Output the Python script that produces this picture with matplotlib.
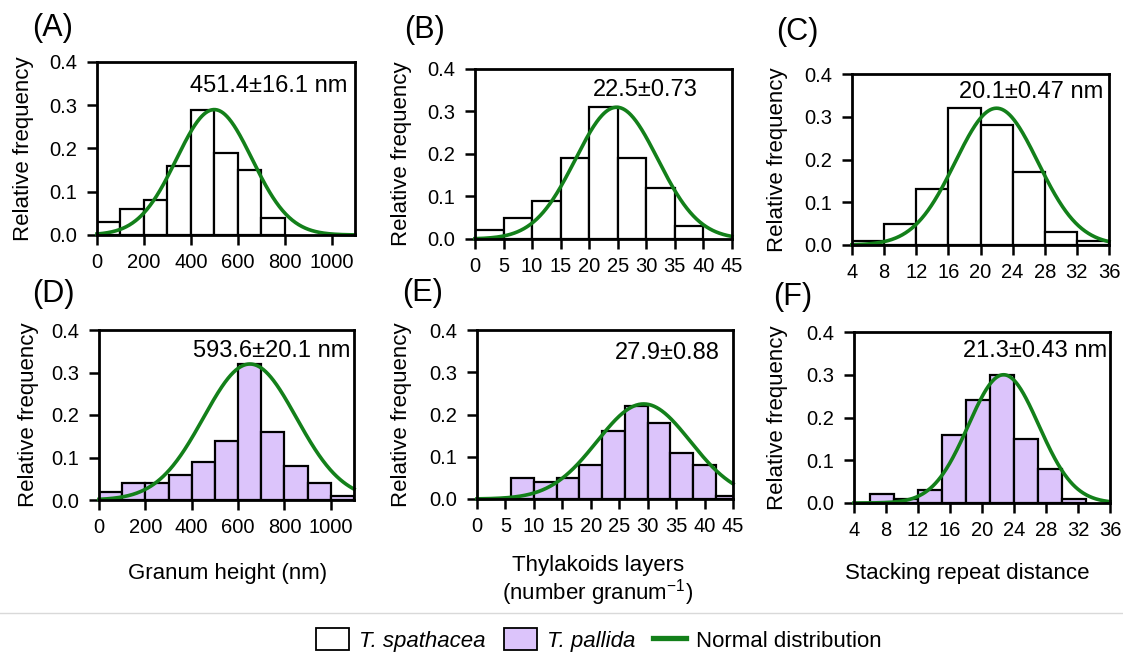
import numpy as np
import matplotlib
matplotlib.use("Agg")
import matplotlib.pyplot as plt
from matplotlib.patches import Patch
from matplotlib.lines import Line2D

plt.rcParams['font.family'] = ['Liberation Sans', 'DejaVu Sans']
plt.rcParams['mathtext.fontset'] = 'custom'
plt.rcParams['mathtext.rm'] = 'Liberation Sans'
plt.rcParams['mathtext.it'] = 'Liberation Sans:italic'

# ---- histogram data (bin left edges, bin width, relative frequency) ----
# Granum height (nm)
a_edges = [0, 100, 200, 300, 400, 500, 600, 700]
a_freq = [0.03, 0.06, 0.08, 0.16, 0.29, 0.19, 0.15, 0.04]
d_edges = [0, 100, 200, 300, 400, 500, 600, 700, 800, 900, 1000]
d_freq = [0.02, 0.04, 0.04, 0.06, 0.09, 0.14, 0.32, 0.16, 0.08, 0.04, 0.01]
height_width = 100

# Thylakoid layers per granum
b_edges = [0, 5, 10, 15, 20, 25, 30, 35]
b_freq = [0.02, 0.05, 0.09, 0.19, 0.31, 0.19, 0.12, 0.03]
b_width = 5
e_edges = [6, 10, 14, 18, 22, 26, 30, 34, 38, 42]
e_freq = [0.05, 0.04, 0.05, 0.08, 0.16, 0.22, 0.18, 0.11, 0.08, 0.007]
e_width = 4

# Stacking repeat distance
c_edges = [4, 8, 12, 16, 20, 24, 28, 32]
c_freq = [0.01, 0.05, 0.13, 0.32, 0.28, 0.17, 0.03, 0.01]
c_width = 4
f_edges = [6, 9, 12, 15, 18, 21, 24, 27, 30]
f_freq = [0.02, 0.01, 0.03, 0.16, 0.24, 0.30, 0.15, 0.08, 0.01]
f_width = 3

# fitted normal curves: (mean, sd, peak height)
a_fit = (500, 161, 0.29)
b_fit = (24.8, 7.2, 0.31)
c_fit = (22.0, 5.15, 0.32)
d_fit = (651, 200, 0.32)
e_fit = (29.3, 8.2, 0.225)
f_fit = (22.7, 4.4, 0.30)

# mean ± SE labels
a_label = "451.4±16.1 nm"
b_label = "22.5±0.73"
c_label = "20.1±0.47 nm"
d_label = "593.6±20.1 nm"
e_label = "27.9±0.88"
f_label = "21.3±0.43 nm"

height_ticks = [0, 200, 400, 600, 800, 1000]
layer_ticks = [0, 5, 10, 15, 20, 25, 30, 35, 40, 45]
repeat_ticks = [4, 8, 12, 16, 20, 24, 28, 32, 36]
freq_ticks = [0.0, 0.1, 0.2, 0.3, 0.4]

species = ["T. spathacea", "T. pallida"]
fill_colors = ["white", "#dcc4fb"]
curve_color = "#13801a"

W, H = 1123, 657
fig = plt.figure(figsize=(W / 100, H / 100), dpi=100)


def px_axes(x0, y0, x1, y1):
    return fig.add_axes([x0 / W, 1 - y1 / H, (x1 - x0) / W, (y1 - y0) / H])


panels = [
    dict(box=(97, 62, 355, 235), edges=a_edges, width=height_width, freq=a_freq, fit=a_fit,
         xlim=(0, 1100), ticks=height_ticks, text=a_label, tpos=(0.97, 0.827), ha='right',
         fill=fill_colors[0], tag="(A)", tagpos=(53, 28), ylx=24),
    dict(box=(475, 69, 732, 239), edges=b_edges, width=b_width, freq=b_freq, fit=b_fit,
         xlim=(0, 45), ticks=layer_ticks, text=b_label, tpos=(0.661, 0.841), ha='center',
         fill=fill_colors[0], tag="(B)", tagpos=(424, 30), ylx=402),
    dict(box=(852, 74, 1109, 245), edges=c_edges, width=c_width, freq=c_freq, fit=c_fit,
         xlim=(4, 36), ticks=repeat_ticks, text=c_label, tpos=(0.977, 0.861), ha='right',
         fill=fill_colors[0], tag="(C)", tagpos=(797, 32), ylx=778),
    dict(box=(99, 330, 354, 500), edges=d_edges, width=height_width, freq=d_freq, fit=d_fit,
         xlim=(0, 1100), ticks=height_ticks, text=d_label, tpos=(0.985, 0.841), ha='right',
         fill=fill_colors[1], tag="(D)", tagpos=(53, 294), ylx=29),
    dict(box=(477, 330, 733, 499), edges=e_edges, width=e_width, freq=e_freq, fit=e_fit,
         xlim=(0, 45), ticks=layer_ticks, text=e_label, tpos=(0.949, 0.828), ha='right',
         fill=fill_colors[1], tag="(E)", tagpos=(423, 293), ylx=402),
    dict(box=(854, 332, 1110, 503), edges=f_edges, width=f_width, freq=f_freq, fit=f_fit,
         xlim=(4, 36), ticks=repeat_ticks, text=f_label, tpos=(0.988, 0.854), ha='right',
         fill=fill_colors[1], tag="(F)", tagpos=(793, 297), ylx=778),
]

for p in panels:
    ax = px_axes(*p['box'])
    ax.bar(p['edges'], p['freq'], width=p['width'], align='edge',
           color=p['fill'], edgecolor='black', linewidth=1.6, zorder=2)
    mu, sd, peak = p['fit']
    xs = np.linspace(p['xlim'][0], p['xlim'][1], 400)
    ax.plot(xs, peak * np.exp(-0.5 * ((xs - mu) / sd) ** 2), color=curve_color,
            linewidth=2.6, zorder=3, clip_on=False)
    ax.set_xlim(*p['xlim'])
    ax.set_ylim(0, 0.4)
    ax.set_xticks(p['ticks'])
    ax.set_xticklabels([str(t) for t in p['ticks']], fontsize=14.5)
    ax.set_yticks(freq_ticks)
    ax.set_yticklabels([f"{v:.1f}" for v in freq_ticks], fontsize=14.5)
    ax.tick_params(axis='both', direction='out', length=7, width=1.8, colors='black')
    ax.tick_params(axis='x', pad=6)
    ax.tick_params(axis='y', pad=7)
    for s in ax.spines.values():
        s.set_linewidth(2.0)
        s.set_zorder(4)
    ax.text(p['tpos'][0], p['tpos'][1], p['text'], transform=ax.transAxes,
            ha=p['ha'], va='baseline', fontsize=17)
    cy = (p['box'][1] + p['box'][3]) / 2
    fig.text(p['ylx'] / W, 1 - cy / H, "Relative frequency", rotation=90,
             ha='center', va='center', fontsize=16)
    fig.text(p['tagpos'][0] / W, 1 - p['tagpos'][1] / H, p['tag'],
             ha='center', va='center', fontsize=22)

# shared x-axis titles
fig.text(228 / W, 1 - 573 / H, "Granum height (nm)", ha='center', va='center', fontsize=16)
fig.text(598 / W, 1 - 566 / H, "Thylakoids layers", ha='center', va='center', fontsize=16)
fig.text(598 / W, 1 - 593 / H, r"(number granum$^{-1}$)", ha='center', va='center', fontsize=16)
fig.text(967 / W, 1 - 573 / H, "Stacking repeat distance", ha='center', va='center', fontsize=16)

# separator above the legend
fig.add_artist(Line2D([0, 1], [1 - 613 / H, 1 - 613 / H], transform=fig.transFigure,
                      color='#d9d9d9', linewidth=1.0))

handles = [
    Patch(facecolor=fill_colors[0], edgecolor='black', linewidth=1.3),
    Patch(facecolor=fill_colors[1], edgecolor='black', linewidth=1.3),
    Line2D([0], [0], color=curve_color, linewidth=3.8),
]
labels = [species[0], species[1], "Normal distribution"]
leg = fig.legend(handles, labels, loc='center', bbox_to_anchor=(599 / W, 1 - 640 / H),
                 ncol=3, frameon=False, fontsize=16, handlelength=1.5, handleheight=1.1,
                 handletextpad=0.45, columnspacing=0.8)
for t in leg.get_texts()[:2]:
    t.set_fontstyle('italic')

fig.savefig("out.png", dpi=100)
